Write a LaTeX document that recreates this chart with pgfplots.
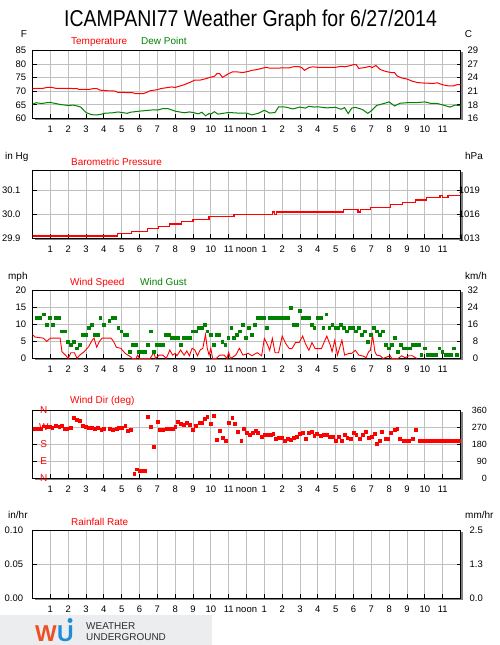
\documentclass[border=0pt]{standalone}
\usepackage{pgfplots}
\pgfplotsset{compat=1.18}
\usepackage{graphicx}
\usepackage{fontspec}
\setmainfont{Liberation Sans}

\definecolor{wured}{RGB}{255,0,0}
\definecolor{wugreen}{RGB}{0,130,0}
\definecolor{gridgray}{RGB}{192,192,192}
\definecolor{shadowgray}{RGB}{128,128,128}
\definecolor{logogray}{RGB}{236,237,238}
\definecolor{logotext}{RGB}{45,45,50}
\definecolor{wuorange}{RGB}{235,80,40}
\definecolor{wublue}{RGB}{30,140,215}

\newcommand\ticklabfont{\fontsize{9.5}{11}\selectfont}
\newcommand\lblfont{\fontsize{10}{12}\selectfont}

\pgfplotsset{
  panel/.style={
    scale only axis, width=428bp, height=68bp,
    xmin=0, xmax=24,
    xtick={1,...,23},
    xticklabels={1,2,3,4,5,6,7,8,9,10,11,noon,1,2,3,4,5,6,7,8,9,10,11},
    xtick pos=left,
    grid=major,
    major grid style={draw=gridgray, line width=1bp},
    axis line style={draw=black, line width=1bp},
    tick align=inside,
    major tick length=4bp,
    tick style={black, line width=1bp},
    tick label style={font=\ticklabfont},
    xticklabel style={inner sep=0pt, anchor=north, text height=7bp, text depth=0bp, yshift=-7.2bp},
    yticklabel style={inner sep=0pt, anchor=east},
    axis background/.style={fill=white},
  },
  rightlab/.style={
    scale only axis, width=428bp, height=68bp,
    xmin=0, xmax=24,
    hide x axis,
    axis y line*=right,
    y axis line style={draw=none},
    major tick length=0pt,
    tick label style={font=\ticklabfont},
    yticklabel style={inner sep=0pt, anchor=east},
  },
}

\begin{document}
\begin{tikzpicture}[x=1bp,y=1bp]
\useasboundingbox (0,0) rectangle (500,645);
\fill[white] (0,0) rectangle (500,645);

% drop shadows of the plot frames
\foreach \s in {526.5,406.5,286.5,166.5,46.5}{
  \fill[shadowgray] (34.5,{\s-2}) rectangle (462.5,{\s+66});
}

% title
\node[anchor=base, inner sep=0pt] at (250.5,618.3)
  {\scalebox{0.85}[1]{\fontsize{23}{26}\selectfont ICAMPANI77 Weather Graph for 6/27/2014}};

% ---------- Panel 1: temperature / dew point ----------
\node[anchor=base, inner sep=0pt, font=\lblfont] at (24,607.3) {F};
\node[anchor=base, inner sep=0pt, font=\lblfont] at (468.5,607.3) {C};
\node[anchor=base west, inner sep=0pt, font=\lblfont, text=wured] at (71,600) {Temperature};
\node[anchor=base west, inner sep=0pt, font=\lblfont, text=wugreen] at (141,600) {Dew Point};

\begin{axis}[panel, at={(32.5bp,526.5bp)}, anchor=south west,
  ymin=60, ymax=85, ytick={60,65,70,75,80,85},
  yticklabels={60,65,70,75,80,85},
  yticklabel style={xshift=-6.2bp}]
\addplot[wured, line width=1bp] coordinates {
(0,71.0)(0.6,71.1)(0.8,71.4)(1.1,71.4)(1.3,71.1)(2.5,71.0)(2.6,70.7)(3.2,70.7)(3.4,71.0)(3.6,71.0)
(3.8,70.4)(4.2,70.2)(4.6,70.1)(4.8,69.6)(5.6,69.5)(5.8,69.1)(6.2,69.1)(6.4,69.6)(6.6,70.2)(7.0,70.6)
(7.2,71.0)(7.6,71.4)(7.8,71.6)(8.0,71.4)(8.3,72.0)(8.5,72.4)(8.8,73.2)(9.1,74.1)(9.4,74.1)(9.7,74.6)
(10.0,75.2)(10.2,75.5)(10.35,76.5)(10.5,76.5)(10.65,75.1)(11.0,76.5)(11.2,77.1)(11.5,77.1)(11.8,76.9)(12.1,77.3)
(12.3,77.7)(12.6,78.0)(12.9,78.5)(13.1,78.8)(13.3,78.5)(13.7,78.5)(14.0,78.6)(14.4,78.6)(14.6,79.0)(14.9,79.1)
(15.1,78.7)(15.25,77.7)(15.5,78.7)(15.7,79.0)(16.0,78.8)(16.5,78.8)(17.0,78.8)(17.3,79.2)(17.5,79.0)(17.8,79.4)
(18.0,79.8)(18.15,79.8)(18.3,78.4)(18.7,78.8)(18.9,79.2)(19.05,78.7)(19.25,79.5)(19.5,78.0)(19.8,77.3)(20.1,76.9)
(20.3,76.9)(20.45,75.6)(20.7,74.9)(21.0,74.5)(21.3,73.7)(21.6,73.2)(22.0,73.0)(22.5,72.9)(22.7,73.1)(23.0,72.4)
(23.3,72.0)(23.6,72.0)(23.8,72.4)(24.0,72.5)
};
\addplot[wugreen, line width=1bp] coordinates {
(0,65.2)(0.2,65.8)(0.5,65.5)(0.8,65.8)(1.0,65.9)(1.3,65.5)(1.6,65.1)(2.0,64.8)(2.3,64.9)(2.5,64.6)
(2.7,64.2)(3.0,62.2)(3.3,61.4)(3.6,61.3)(3.9,61.6)(4.0,61.9)(4.5,62.1)(4.8,62.4)(5.0,62.2)(5.3,61.9)
(5.5,62.3)(6.0,62.7)(6.5,63.0)(6.8,63.2)(7.0,63.1)(7.3,63.6)(7.6,63.6)(8.0,62.7)(8.5,62.1)(8.8,62.4)
(9.0,62.2)(9.3,61.7)(9.5,62.3)(9.7,61.0)(9.9,61.8)(10.0,61.6)(10.2,62.5)(10.4,61.6)(10.7,61.9)(11.0,62.2)
(11.5,62.0)(12.0,62.0)(12.3,61.3)(12.7,62.0)(13.0,63.0)(13.3,62.0)(13.6,62.2)(13.8,64.3)(14.2,64.2)(14.6,63.5)
(15.0,64.2)(15.3,63.8)(15.5,64.5)(15.8,64.2)(16.0,64.3)(16.5,63.9)(17.0,64.1)(17.3,63.4)(17.5,64.0)(17.7,61.8)
(17.9,63.8)(18.1,64.1)(18.5,63.3)(18.8,61.9)(19.0,62.8)(19.3,64.8)(19.7,65.5)(20.0,66.1)(20.3,64.6)(20.6,65.6)
(21.0,65.8)(21.5,65.8)(22.0,66.1)(22.3,65.6)(22.7,65.5)(23.0,65.0)(23.4,64.2)(23.7,64.9)(24.0,64.8)
};
\end{axis}
\begin{axis}[rightlab, at={(32.5bp,526.5bp)}, anchor=south west,
  ymin=60, ymax=85, ytick={60,65,70,75,80,85},
  yticklabels={16,18,21,24,27,29},
  yticklabel style={xshift=17.8bp}]
\end{axis}

% ---------- Panel 2: pressure ----------
\node[anchor=base west, inner sep=0pt, font=\lblfont] at (5,485.7) {in Hg};
\node[anchor=base west, inner sep=0pt, font=\lblfont] at (465,485.7) {hPa};
\node[anchor=base west, inner sep=0pt, font=\lblfont, text=wured] at (71,479) {Barometric Pressure};

\begin{axis}[panel, at={(32.5bp,406.5bp)}, anchor=south west,
  ymin=29.9, ymax=30.1833, ytick={29.9,30.0,30.1},
  yticklabels={29.9,30.0,30.1},
  yticklabel style={xshift=-11.8bp}]
\addplot[wured, line width=1.2bp, const plot] coordinates {
(0,29.91)(4.75,29.92)(5.55,29.93)(6.43,29.94)(7.08,29.95)(7.7,29.96)(8.35,29.97)(9.0,29.98)
(9.9,29.99)(11.3,30.00)(13.45,30.01)(13.55,30.00)(13.7,30.01)(17.45,30.02)(18.25,30.01)(18.4,30.02)
(18.95,30.03)(20.06,30.04)(20.75,30.05)(21.46,30.06)(22.1,30.07)(22.85,30.08)(23.0,30.07)(23.3,30.08)(24,30.08)
};
\end{axis}
\begin{axis}[rightlab, at={(32.5bp,406.5bp)}, anchor=south west,
  ymin=29.9, ymax=30.1833, ytick={29.9,30.0,30.1},
  yticklabels={1013,1016,1019},
  yticklabel style={xshift=19.5bp}]
\end{axis}

% ---------- Panel 3: wind speed / gust ----------
\node[anchor=base west, inner sep=0pt, font=\lblfont] at (8,365.7) {mph};
\node[anchor=base west, inner sep=0pt, font=\lblfont] at (465,365.7) {km/h};
\node[anchor=base west, inner sep=0pt, font=\lblfont, text=wured] at (70,359) {Wind Speed};
\node[anchor=base west, inner sep=0pt, font=\lblfont, text=wugreen] at (140,359) {Wind Gust};

\begin{axis}[panel, at={(32.5bp,286.5bp)}, anchor=south west,
  ymin=0, ymax=20, ytick={0,5,10,15,20},
  yticklabels={0,5,10,15,20},
  yticklabel style={xshift=-6.2bp}]
\addplot[wured, line width=0.9bp] coordinates {
(0,7)(0.15,6.3)(0.6,6)(0.8,5)(1.0,6)(1.55,6)(1.65,2)(1.85,1)(2.0,0)(2.15,1.7)
(2.35,1.7)(2.5,0)(2.65,1)(2.9,2)(3.15,3.5)(3.35,5.4)(3.45,6)(3.6,3.3)(3.75,5)(3.9,6)
(4.4,6)(4.55,5)(4.7,3.3)(4.95,3)(5.2,1.5)(5.5,0.5)(5.6,0)(5.8,0)(5.9,1)(6.0,0)
(6.6,0)(6.8,1.8)(6.9,0)(7.1,1)(7.3,1)(7.5,0)(7.7,2.5)(7.85,1)(8.0,1.5)(8.1,0.8)
(8.3,2.5)(8.5,1)(8.65,2.2)(8.8,0.8)(8.95,3)(9.1,2.5)(9.25,0.8)(9.4,2.5)(9.55,3)(9.7,7)
(9.8,3)(9.9,1)(10.0,3)(10.1,0)(10.3,0)(10.5,1)(10.75,1)(10.9,0)(11.0,1.8)(11.1,0)
(11.4,1)(11.6,3)(11.8,1)(12.1,1.5)(12.3,0.8)(12.6,1.7)(12.85,0.8)(13.0,5.9)(13.15,4.4)(13.3,2.4)
(13.45,5.9)(13.6,1.7)(13.8,1.7)(14.0,6.6)(14.2,4.4)(14.4,2.9)(14.55,2.9)(14.75,4.7)(14.95,4.7)(15.15,6.6)
(15.3,4.4)(15.5,2.4)(15.67,4.7)(15.85,2.9)(16.2,2.9)(16.5,6.6)(16.7,3.9)(16.8,2)(16.95,5.4)(17.1,1)
(17.35,5.4)(17.5,1)(17.75,1.5)(17.9,1.5)(18.1,2.4)(18.3,1)(18.55,0.7)(18.7,0.2)(18.85,2)(18.95,2.4)
(19.07,6.8)(19.2,2)(19.3,1)(19.5,0.8)(19.65,0)(20.05,0.8)(20.15,0)(20.5,0)(20.7,0.8)(20.9,0.2)
(21.1,0.8)(21.3,0.8)(21.55,0)
};
\addplot[only marks, mark=square*, mark size=1.4bp, color=wugreen, mark options={draw=none, fill=wugreen}] coordinates {
(0.25,12)(0.42,12)(0.62,13)(0.8,10)(0.97,12)(1.14,10)(1.3,12)(1.47,12)(1.62,8)(1.8,8)
(1.97,5)(2.14,4)(2.3,5)(2.47,3)(2.64,4)(2.8,7)(2.97,7)(3.14,9)(3.3,10)(3.47,7)
(3.64,7)(3.8,12)(3.97,10)(4.3,11)(4.47,12)(4.64,12)(4.8,9)(4.97,8)(5.14,7)(5.3,7)
(5.47,2)(5.64,4)(5.8,4)(5.97,2)(6.14,2)(6.3,2)(6.47,4)(6.64,8)(6.8,2)(6.97,4)
(7.14,4)(7.3,4)(7.47,7)(7.64,7)(7.8,6)(7.97,6)(8.14,6)(8.3,4)(8.47,6)(8.64,6)
(8.8,6)(8.97,8)(9.14,8)(9.3,9)(9.47,9)(9.64,10)(9.8,8)(9.97,7)(10.14,4)(10.3,7)
(10.47,7)(10.64,5)(10.8,4)(10.97,6)(11.14,9)(11.3,6)(11.47,7)(11.64,8)(11.8,10)(11.97,6)
(12.14,9)(12.3,7)(12.47,10)(12.64,12)(12.8,12)(12.97,12)(13.14,9)(13.3,12)(13.47,12)(13.64,12)
(13.8,12)(13.97,12)(14.14,12)(14.3,12)(14.47,15)(14.64,10)(14.8,10)(14.97,14)(15.14,12)(15.3,12)
(15.47,12)(15.64,10)(15.8,9)(15.97,12)(16.14,12)(16.3,9)(16.47,13)(16.64,9)(16.8,10)(16.97,9)
(17.14,9)(17.3,10)(17.47,9)(17.64,8)(17.8,9)(17.97,9)(18.14,8)(18.3,9)(18.47,7)(18.64,8)
(18.8,5)(18.97,7)(19.14,9)(19.3,8)(19.47,7)(19.64,8)(19.8,4)(19.97,3)(20.14,4)(20.3,6)
(20.47,2)(20.64,4)(20.8,3)(20.97,3)(21.14,3)(21.3,4)(21.47,4)(21.64,4)(21.8,1)(21.97,3)
(22.14,1)(22.3,1)(22.47,1)(22.64,1)(22.8,3)(22.97,2)(23.14,1)(23.3,1)(23.47,1)(23.64,3)
(23.8,1)
};
\end{axis}
\begin{axis}[rightlab, at={(32.5bp,286.5bp)}, anchor=south west,
  ymin=0, ymax=20, ytick={0,5,10,15,20},
  yticklabels={0,8,16,24,32},
  yticklabel style={xshift=17.8bp}]
\end{axis}

% ---------- Panel 4: wind direction ----------
\node[anchor=base west, inner sep=0pt, font=\lblfont, text=wured] at (70,241) {Wind Dir (deg)};

\begin{axis}[panel, at={(32.5bp,166.5bp)}, anchor=south west,
  ymin=0, ymax=360, ytick={0,90,180,270,360},
  yticklabels={}, clip=false]
\addplot[only marks, mark=square*, mark size=1.4bp, color=wured, mark options={draw=none, fill=wured}] coordinates {
(0.1,263)(0.25,263)(0.45,263)(0.65,277)(0.8,276)(0.95,276)(1.1,268)(1.3,279)(1.5,274)(1.65,279)
(1.8,263)(1.95,263)(2.15,268)(2.3,321)(2.5,313)(2.65,307)(2.8,279)(3.0,274)(3.15,268)(3.3,268)
(3.5,262)(3.65,267)(3.85,260)(4.0,263)(4.35,263)(4.5,258)(4.7,263)(4.85,268)(5.0,268)(5.2,279)
(5.35,255)(5.5,260)(5.7,26)(5.85,49)(6.0,42)(6.15,42)(6.3,42)(6.45,328)(6.65,274)(6.8,169)
(7.0,302)(7.15,258)(7.3,258)(7.5,263)(7.65,263)(7.85,263)(8.0,274)(8.15,302)(8.3,292)(8.5,286)
(8.65,295)(8.8,286)(9.0,258)(9.15,279)(9.35,295)(9.5,295)(9.65,316)(9.8,328)(10.0,290)(10.15,334)
(10.35,205)(10.5,255)(10.65,216)(10.85,200)(11.0,295)(11.2,321)(11.35,290)(11.5,246)(11.7,200)(11.85,263)
(12.0,244)(12.2,232)(12.35,244)(12.5,253)(12.65,242)(12.85,221)(13.0,232)(13.15,232)(13.35,232)(13.5,237)
(13.65,211)(13.8,216)(14.0,216)(14.15,200)(14.3,211)(14.5,205)(14.65,216)(14.8,221)(15.0,237)(15.15,244)
(15.3,211)(15.5,244)(15.65,248)(15.8,227)(15.95,237)(16.15,227)(16.3,232)(16.5,232)(16.65,221)(16.85,221)
(17.0,200)(17.15,221)(17.35,200)(17.5,232)(17.65,216)(17.85,211)(18.0,244)(18.15,232)(18.35,211)(18.5,232)
(18.7,248)(18.85,216)(19.0,221)(19.2,237)(19.3,184)(19.45,200)(19.6,248)(19.8,211)(19.95,211)(20.1,244)
(20.3,258)(20.45,263)(20.6,211)(20.8,200)(20.95,200)(21.1,200)(21.3,211)(21.5,258)
(21.7,200)(21.8,200)(21.9,200)(22.0,200)(22.1,200)(22.2,200)(22.3,200)(22.4,200)(22.5,200)(22.6,200)
(22.7,200)(22.8,200)(22.9,200)(23.0,200)(23.1,200)(23.2,200)(23.3,200)(23.4,200)(23.5,200)(23.6,200)
(23.7,200)(23.8,200)(23.9,200)
};
\node[text=wured, font=\lblfont, inner sep=0pt] at (axis cs:0.63,360) {N};
\node[text=wured, font=\lblfont, inner sep=0pt] at (axis cs:0.63,270) {W};
\node[text=wured, font=\lblfont, inner sep=0pt] at (axis cs:0.63,180) {S};
\node[text=wured, font=\lblfont, inner sep=0pt] at (axis cs:0.63,90) {E};
\node[text=wured, font=\lblfont, inner sep=0pt] at (axis cs:0.63,0) {N};
\end{axis}
\begin{axis}[rightlab, at={(32.5bp,166.5bp)}, anchor=south west,
  ymin=0, ymax=360, ytick={0,90,180,270,360},
  yticklabels={0,90,180,270,360},
  yticklabel style={xshift=26.5bp, font=\fontsize{9}{10}\selectfont}]
\end{axis}

% ---------- Panel 5: rainfall rate ----------
\node[anchor=base west, inner sep=0pt, font=\lblfont] at (8,126) {in/hr};
\node[anchor=base west, inner sep=0pt, font=\lblfont] at (465,126) {mm/hr};
\node[anchor=base west, inner sep=0pt, font=\lblfont, text=wured] at (71,119) {Rainfall Rate};

\begin{axis}[panel, at={(32.5bp,46.5bp)}, anchor=south west,
  ymin=0, ymax=0.1, ytick={0,0.05,0.1},
  yticklabels={0.00,0.05,0.10},
  yticklabel style={xshift=-9.2bp}]
\end{axis}
\begin{axis}[rightlab, at={(32.5bp,46.5bp)}, anchor=south west,
  ymin=0, ymax=0.1, ytick={0,0.05,0.1},
  yticklabels={0.0,1.3,2.5},
  yticklabel style={xshift=22.5bp}]
\end{axis}

% ---------- logo ----------
\fill[logogray] (0,0) rectangle (212,30);
\node[anchor=base west, inner sep=0pt, text=wuorange] at (35,3.5) {\fontsize{23}{24}\selectfont\bfseries W};
\node[anchor=base west, inner sep=0pt, text=wublue] at (57,3.5) {\fontsize{23}{24}\selectfont\bfseries U};
\fill[wublue] (70,24.5) circle (2.5);
\node[anchor=base west, inner sep=0pt, text=logotext] at (86,15) {\fontsize{10}{11}\selectfont WEATHER};
\node[anchor=base west, inner sep=0pt, text=logotext] at (86,4) {\fontsize{10}{11}\selectfont UNDERGROUND};
\end{tikzpicture}
\end{document}
